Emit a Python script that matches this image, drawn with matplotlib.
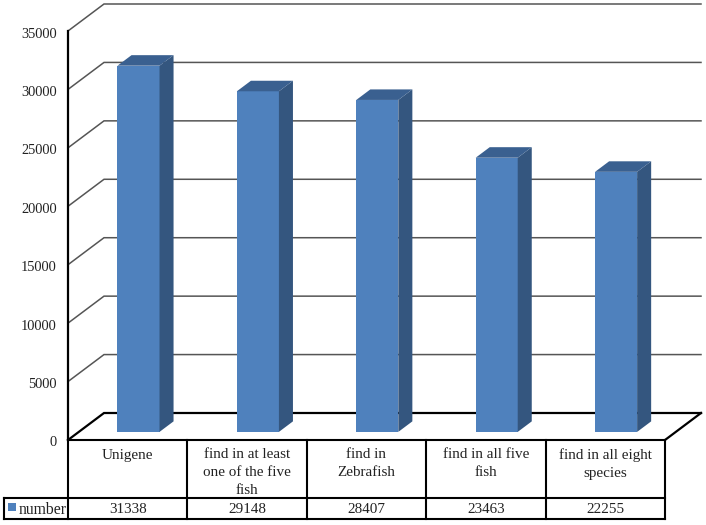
import matplotlib
matplotlib.use('Agg')
from matplotlib import pyplot as plt
from matplotlib.patches import Polygon
from matplotlib.transforms import ScaledTranslation

categories = ['Unigene', 'find in at least\none of the five\nfish', 'find in\nZebrafish',
              'find in all five\nfish', 'find in all eight\nspecies']
values = [31338, 29148, 28407, 23463, 22255]
y_ticks = [0, 5000, 10000, 15000, 20000, 25000, 30000, 35000]
series_name = 'number'

W, H = 706, 525
plt.rcParams['font.family'] = ['Liberation Serif', 'DejaVu Serif']
fig = plt.figure(figsize=(W / 100, H / 100), dpi=100)
ax = fig.add_axes([68 / W, 1 - 440 / H, (665 - 68) / W, (440 - 31) / H])
ax.set_xlim(0, 5)
ax.set_ylim(0, 35000)

# depth of the fake 3d box, in data units
depth_x = 36 / 119.4
depth_y = 27 / 409 * 35000
# bars sit part way into the box
bar_pos = 0.30
bar_depth = 0.39
bar_w = 0.352

for tick in y_ticks:
    col = 'black' if tick == 0 else '#555555'
    lw = 1.6 if tick == 0 else 1.1
    ax.plot([0, depth_x, 5 + depth_x], [tick, tick + depth_y, tick + depth_y],
            color=col, lw=lw, clip_on=False, zorder=1, solid_joinstyle='miter')
ax.plot([5, 5 + depth_x], [0, depth_y], color='black', lw=1.6, clip_on=False, zorder=1)

for i, v in enumerate(values):
    x0 = i + 0.5 - bar_w / 2 + bar_pos * depth_x
    x1 = x0 + bar_w
    y0 = bar_pos * depth_y
    dx = bar_depth * depth_x
    dy = bar_depth * depth_y
    ax.bar(x0, v, bar_w, bottom=y0, align='edge', color='#4F81BD', zorder=3, clip_on=False)
    ax.add_patch(Polygon([(x1, y0), (x1 + dx, y0 + dy), (x1 + dx, y0 + v + dy), (x1, y0 + v)],
                         closed=True, fc='#34567F', ec='none', zorder=3, clip_on=False))
    ax.add_patch(Polygon([(x0, y0 + v), (x0 + dx, y0 + v + dy), (x1 + dx, y0 + v + dy), (x1, y0 + v)],
                         closed=True, fc='#3A6090', ec='none', zorder=3, clip_on=False))

# axis line and tick labels
ax.set_yticks(y_ticks)
ax.set_yticklabels([str(t) for t in y_ticks], fontsize=10.4, color='#222222')
ax.tick_params(axis='y', length=0, pad=8)
nudge = ScaledTranslation(0, -1.5 / 100, fig.dpi_scale_trans)
for lab in ax.get_yticklabels():
    lab.set_transform(lab.get_transform() + nudge)
ax.set_xticks([])
for s in ['top', 'right', 'bottom']:
    ax.spines[s].set_visible(False)
ax.spines['left'].set_linewidth(1.6)
ax.patch.set_alpha(0)

# data table under the chart, drawn in pixel coordinates of the axis
px = 35000 / 409
row1 = -(497.7 - 440) * px
row2 = -(519.3 - 440) * px
left = -64 / 119.4
for y in [0, row1, row2]:
    ax.plot([left if y != 0 else 0, 5], [y, y], color='black', lw=1.5, clip_on=False, zorder=4)
for x in range(6):
    ax.plot([x, x], [0, row2], color='black', lw=1.5, clip_on=False, zorder=4)
ax.plot([left, left], [row1, row2], color='black', lw=1.5, clip_on=False, zorder=4)

for i, c in enumerate(categories):
    ax.text(i + 0.5, -8.5 * px, c, ha='center', va='top', fontsize=10.9, color='#222222',
            linespacing=1.48, clip_on=False)
    ax.text(i + 0.5, (row1 + row2) / 2 - px, str(values[i]), ha='center', va='center', fontsize=10.9,
            color='#222222', clip_on=False)

ax.plot([left + 8 / 119.4], [(row1 + row2) / 2 + 1.5 * px], marker='s', ms=5.5, color='#4F81BD',
        clip_on=False, mew=0)
ax.text(-49 / 119.4, (row1 + row2) / 2 - px, series_name, ha='left', va='center', fontsize=11.3,
        color='#222222', clip_on=False)

fig.savefig('out.png', dpi=100)
